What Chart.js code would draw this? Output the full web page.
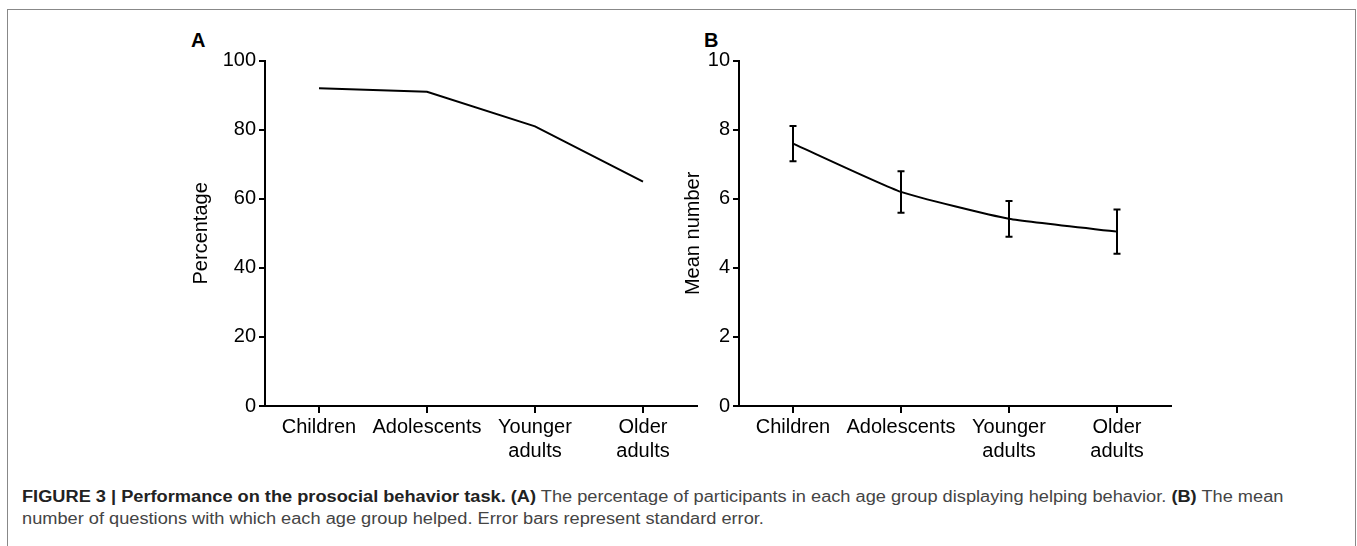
<!DOCTYPE html>
<html>
<head>
<meta charset="utf-8">
<script src="https://cdn.jsdelivr.net/npm/chart.js@4.4.1/dist/chart.umd.min.js"></script>
<style>
    html, body { margin: 0; padding: 0; background: #fff; overflow: hidden; }
    body { width: 1357px; height: 546px; position: relative; font-family: "Liberation Sans", Arial, sans-serif; }
    .frame { position: absolute; left: 7px; top: 9px; width: 1347px; height: 600px; border: 1.5px solid #888; border-bottom: none; }
    .panel-tag { position: absolute; font-weight: bold; font-size: 20px; color: #000; }
    canvas { position: absolute; }
    #caption { position: absolute; left: 22px; top: 486px; font-size: 16px; line-height: 22px; color: #444; white-space: nowrap; transform-origin: 0 0; }
    #caption b { color: #222; }
</style>
</head>
<body>
<div class="frame"></div>
<div class="panel-tag" style="left:191px; top:29px;">A</div>
<div class="panel-tag" style="left:704px; top:29px;">B</div>
<canvas id="chartA" width="560" height="440" style="left:150px; top:40px;"></canvas>
<canvas id="chartB" width="560" height="440" style="left:640px; top:40px;"></canvas>
<div id="caption"><span id="line1"><b>FIGURE 3 | Performance on the prosocial behavior task. (A)</b> The percentage of participants in each age group displaying helping behavior. <b>(B)</b> The mean</span><br>number of questions with which each age group helped. Error bars represent standard error.</div>
<script>
// dữ liệu
const groups = ['Children', 'Adolescents', ['Younger', 'adults'], ['Older', 'adults']];
const helpingPct = [92, 91, 81, 65];
const meanHelped = [7.6, 6.2, 5.42, 5.05];
const meanSE = [0.51, 0.6, 0.52, 0.64];
const pctTicks = { min: 0, max: 100, step: 20 };
const meanTicks = { min: 0, max: 10, step: 2 };

const fontFamily = '"Liberation Sans", Arial, sans-serif';
Chart.defaults.font.family = fontFamily;
Chart.defaults.color = '#000';

// thanh sai số (standard error)
const errorBars = {
    id: 'errorBars',
    afterDatasetsDraw(chart, args, opts) {
        if (!opts.se) return;
        const ctx = chart.ctx;
        const meta = chart.getDatasetMeta(0);
        const y = chart.scales.y;
        const data = chart.data.datasets[0].data;
        ctx.save();
        ctx.strokeStyle = '#000';
        ctx.lineWidth = 2;
        meta.data.forEach((pt, i) => {
            const top = y.getPixelForValue(data[i] + opts.se[i]);
            const bot = y.getPixelForValue(data[i] - opts.se[i]);
            ctx.beginPath();
            ctx.moveTo(pt.x, top);
            ctx.lineTo(pt.x, bot);
            ctx.moveTo(pt.x - 3.5, top);
            ctx.lineTo(pt.x + 3.5, top);
            ctx.moveTo(pt.x - 3.5, bot);
            ctx.lineTo(pt.x + 3.5, bot);
            ctx.stroke();
        });
        ctx.restore();
    }
};

function makePanel(id, values, ticks, title, yWidth, titlePad, padRight, tension, se) {
    const ctx = document.getElementById(id).getContext('2d');
    return new Chart(ctx, {
        type: 'line',
        data: {
            labels: groups,
            datasets: [{
                data: values,
                borderColor: '#000',
                borderWidth: 2,
                pointRadius: 0,
                tension: tension,
                fill: false
            }]
        },
        options: {
            responsive: false,
            animation: false,
            devicePixelRatio: 1,
            layout: { padding: { top: 20.7, right: padRight, bottom: 0, left: 0 } },
            plugins: {
                legend: { display: false },
                tooltip: { enabled: false },
                errorBars: { se: se }
            },
            scales: {
                x: {
                    offset: true,
                    afterFit: s => { s.height = 74; },
                    border: { color: '#000', width: 2 },
                    grid: { offset: false, drawOnChartArea: false, drawTicks: true, tickLength: 7, color: '#000', lineWidth: 2 },
                    ticks: { font: { size: 20 }, color: '#000', padding: 2, maxRotation: 0, autoSkip: false }
                },
                y: {
                    min: ticks.min,
                    max: ticks.max,
                    afterFit: s => { s.width = yWidth; },
                    border: { color: '#000', width: 2 },
                    grid: { drawOnChartArea: false, drawTicks: true, tickLength: 6, color: '#000', lineWidth: 2 },
                    ticks: { stepSize: ticks.step, font: { size: 20 }, color: '#000', padding: 3 },
                    title: { display: true, text: title, font: { size: 20 }, color: '#000', padding: { top: titlePad, bottom: 0 } }
                }
            }
        },
        plugins: [errorBars]
    });
}

makePanel('chartA', helpingPct, pctTicks, 'Percentage', 115, 39, 13, 0, null);
makePanel('chartB', meanHelped, meanTicks, 'Mean number', 99, 41, 29, 0.15, meanSE);

// co giãn chú thích cho vừa chiều rộng
const line1 = document.getElementById('line1');
const k = 1261 / line1.getBoundingClientRect().width;
document.getElementById('caption').style.transform = 'scaleX(' + k.toFixed(3) + ')';
</script>
</body>
</html>
